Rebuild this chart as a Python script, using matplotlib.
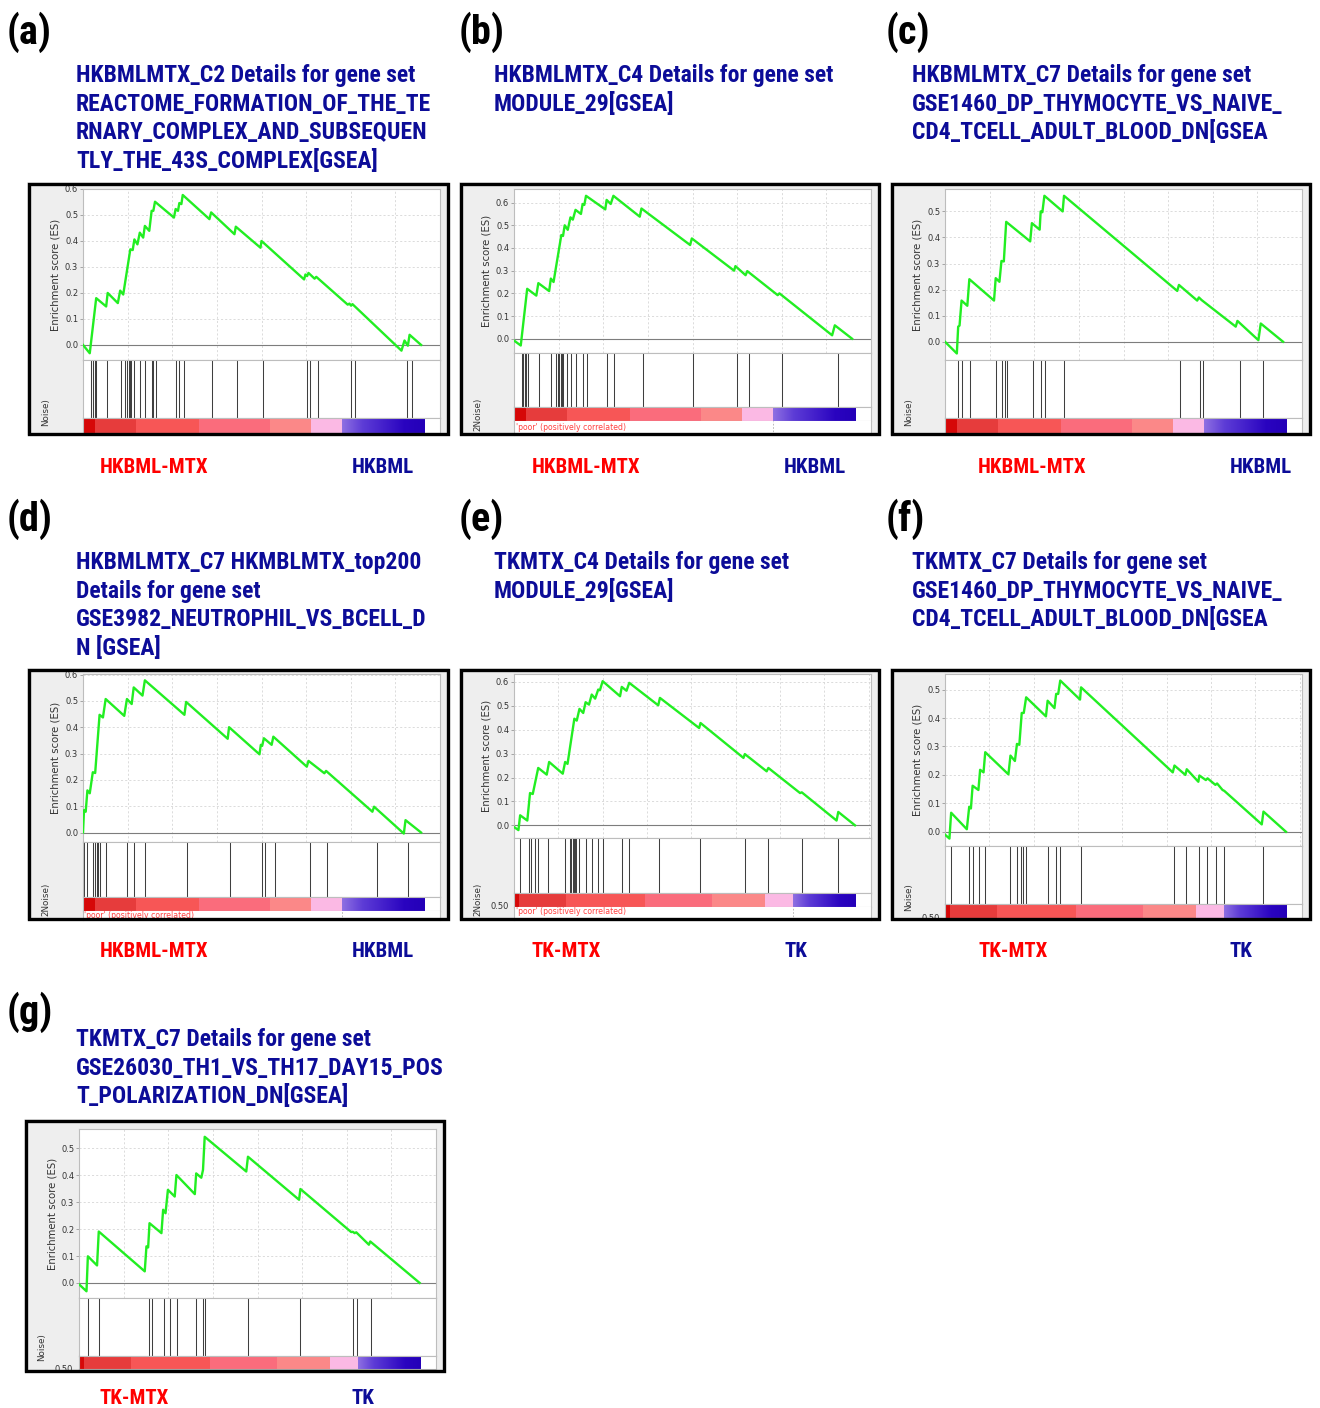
import numpy as np
import matplotlib
matplotlib.use("Agg")
import matplotlib.pyplot as plt
from matplotlib import font_manager as fm
from matplotlib.patches import Rectangle
from matplotlib.colors import LinearSegmentedColormap

# ---------------------------------------------------------------- data
# x values: position in the ranked gene list, in % of the list length
A_ES_X = [0, 2.0, 3.9, 6.85, 7.3, 10.3, 11.0, 11.9, 14.0, 14.7, 15.2, 16.1, 16.8, 17.8, 18.3, 19.6, 20.3,
          20.8, 21.3, 26.9, 27.4, 28.1, 28.5, 29.1, 29.5, 37.4, 37.9, 44.8, 45.2, 52.5, 52.8, 65.4, 65.8,
          66.3, 66.7, 68.5, 69.0, 78.3, 78.8, 79.3, 79.7, 94.2, 95.1, 96.1, 96.6, 100]
A_ES_Y = [0, -0.032, 0.18, 0.148, 0.2, 0.161, 0.209, 0.194, 0.368, 0.365, 0.406, 0.387, 0.432, 0.413, 0.458,
          0.439, 0.516, 0.516, 0.551, 0.49, 0.523, 0.516, 0.546, 0.542, 0.577, 0.484, 0.51, 0.426, 0.455,
          0.374, 0.4, 0.252, 0.271, 0.265, 0.277, 0.255, 0.262, 0.155, 0.159, 0.151, 0.157, -0.022, 0.017,
          -0.003, 0.039, 0]
A_HITS = [2.4, 2.9, 3.4, 3.9, 7.1, 11.0, 12.4, 13.0, 13.4, 13.7, 14.0, 15.0, 16.6, 18.1, 20.1, 20.5, 21.3,
          27.4, 28.2, 29.5, 37.9, 45.2, 52.8, 65.6, 66.5, 69.0, 78.6, 79.7, 95.1, 96.6]

B_ES_X = [0, 2.0, 3.9, 6.6, 7.2, 10.4, 10.9, 11.7, 14.0, 14.5, 15.0, 15.9, 16.7, 17.4, 18.2, 19.8, 20.3,
          20.8, 21.3, 27.0, 27.4, 28.6, 29.4, 37.2, 37.7, 52.1, 52.6, 65.1, 65.5, 68.5, 69.0, 78.0, 78.5,
          94.1, 94.9, 100]
B_ES_Y = [-0.008, -0.03, 0.22, 0.19, 0.245, 0.21, 0.265, 0.25, 0.457, 0.453, 0.5, 0.48, 0.535, 0.525, 0.568,
          0.55, 0.594, 0.59, 0.63, 0.57, 0.612, 0.594, 0.63, 0.538, 0.574, 0.413, 0.442, 0.3, 0.32, 0.28,
          0.298, 0.192, 0.2, 0.015, 0.059, 0]
B_HITS = [2.2, 2.7, 3.1, 3.5, 4.0, 7.2, 10.9, 12.3, 12.8, 13.3, 13.7, 14.1, 14.5, 15.4, 16.7, 18.2, 20.3,
          21.3, 27.4, 29.4, 37.7, 52.6, 65.5, 69.0, 78.5, 94.9]

C_ES_X = [0, 3.5, 3.9, 4.3, 4.9, 6.6, 7.2, 14.5, 15.0, 16.1, 16.7, 17.4, 18.1, 25.2, 25.7, 28.0, 28.3, 28.8,
          29.4, 34.8, 35.2, 68.7, 69.2, 74.6, 75.1, 75.9, 86.0, 86.5, 92.7, 93.4, 100]
C_ES_Y = [0, -0.045, 0.058, 0.062, 0.158, 0.138, 0.24, 0.158, 0.244, 0.23, 0.31, 0.308, 0.46, 0.385, 0.455,
          0.43, 0.5, 0.497, 0.56, 0.5, 0.56, 0.195, 0.218, 0.158, 0.17, 0.16, 0.058, 0.08, 0.006, 0.07, 0]
C_HITS = [3.9, 4.9, 7.2, 15.0, 16.7, 17.6, 18.1, 25.9, 28.2, 29.4, 35.0, 69.0, 74.8, 75.8, 86.5, 93.4]

D_ES_X = [0, 0.3, 0.8, 1.3, 2.0, 2.9, 3.6, 4.9, 5.9, 6.7, 12.2, 13.0, 14.4, 15.0, 17.6, 18.3, 30.0, 30.5,
          42.8, 43.2, 52.2, 52.6, 53.0, 53.5, 55.8, 56.3, 66.2, 66.7, 71.4, 71.9, 85.6, 86.1, 94.9, 95.4, 100]
D_ES_Y = [0, 0.085, 0.079, 0.16, 0.149, 0.229, 0.226, 0.447, 0.437, 0.507, 0.443, 0.507, 0.488, 0.551, 0.52,
          0.578, 0.447, 0.496, 0.356, 0.4, 0.297, 0.333, 0.329, 0.358, 0.333, 0.364, 0.25, 0.272, 0.225,
          0.234, 0.079, 0.098, -0.004, 0.047, 0]
D_HITS = [0.3, 1.3, 2.9, 3.6, 4.1, 4.4, 5.1, 6.7, 13.0, 15.0, 18.3, 30.5, 43.2, 52.6, 53.5, 56.3, 66.7,
          71.7, 86.1, 95.4]

E_ES_X = [0, 1.3, 1.8, 3.9, 4.7, 5.5, 7.1, 9.6, 10.3, 14.3, 15.0, 15.7, 17.7, 18.4, 19.2, 20.3, 21.0, 22.0,
          22.8, 23.8, 24.7, 25.2, 26.0, 31.1, 31.6, 33.0, 33.8, 42.3, 42.8, 54.3, 54.7, 67.3, 67.7, 74.1,
          74.6, 83.9, 84.4, 94.6, 95.1, 100]
E_ES_Y = [-0.007, -0.02, 0.042, 0.02, 0.135, 0.131, 0.24, 0.212, 0.265, 0.216, 0.265, 0.257, 0.446, 0.438,
          0.487, 0.47, 0.515, 0.505, 0.547, 0.53, 0.568, 0.565, 0.603, 0.54, 0.579, 0.563, 0.596, 0.502,
          0.533, 0.407, 0.428, 0.282, 0.298, 0.226, 0.24, 0.135, 0.138, 0.02, 0.056, 0]
E_HITS = [1.8, 4.5, 4.9, 6.3, 7.1, 10.1, 15.0, 16.4, 16.8, 17.2, 17.6, 17.9, 18.2, 19.2, 21.0, 22.8,
          24.7, 26.0, 31.8, 33.8, 42.6, 54.5, 67.7, 74.4, 84.4, 94.9]

F_ES_X = [0, 1.3, 1.8, 6.4, 7.1, 7.6, 8.1, 9.8, 10.3, 11.3, 11.8, 18.6, 19.2, 20.5, 21.1, 21.8, 22.5, 23.1,
          23.8, 29.6, 30.1, 32.1, 32.6, 33.2, 33.8, 39.6, 39.9, 66.8, 67.3, 70.5, 70.9, 74.3, 74.6, 76.5,
          77.0, 79.3, 79.8, 81.4, 81.9, 92.9, 93.4, 100]
F_ES_Y = [-0.01, -0.024, 0.067, 0.009, 0.088, 0.082, 0.162, 0.147, 0.218, 0.209, 0.28, 0.202, 0.268, 0.249,
          0.309, 0.306, 0.418, 0.418, 0.473, 0.406, 0.461, 0.435, 0.485, 0.485, 0.532, 0.465, 0.508, 0.209,
          0.233, 0.2, 0.22, 0.176, 0.198, 0.182, 0.188, 0.165, 0.17, 0.147, 0.144, 0.026, 0.071, 0]
F_HITS = [1.8, 7.1, 8.3, 10.1, 11.8, 19.2, 21.1, 22.3, 22.8, 23.8, 30.1, 32.6, 33.8, 39.9, 67.3, 70.7, 74.4,
          76.7, 79.5, 81.7, 93.4]

G_ES_X = [0, 2.2, 2.6, 5.3, 5.8, 19.3, 19.8, 20.3, 20.7, 24.2, 24.7, 25.4, 26.1, 28.1, 28.6, 34.0, 34.4,
          35.9, 36.4, 36.9, 49.1, 49.6, 64.6, 65.0, 79.9, 80.4, 80.9, 81.4, 85.1, 85.5, 100]
G_ES_Y = [-0.005, -0.031, 0.099, 0.065, 0.191, 0.043, 0.136, 0.132, 0.222, 0.185, 0.272, 0.259, 0.346,
          0.321, 0.401, 0.33, 0.407, 0.391, 0.42, 0.543, 0.414, 0.469, 0.309, 0.349, 0.189, 0.19, 0.185,
          0.188, 0.142, 0.154, 0]
G_HITS = [2.6, 5.8, 20.5, 21.3, 25.0, 26.6, 28.6, 34.4, 36.4, 36.9, 49.6, 64.8, 80.4, 81.4, 85.5]

# ranked-list metric colour bands (boundaries in % of list)
HK_BAR_BOUNDS = [0, 3.5, 15.6, 34.0, 54.7, 66.9, 75.9, 100]
TK_BAR_BOUNDS = [0, 1.5, 15.3, 38.4, 58.1, 73.6, 81.7, 100]

TITLE_A = ["HKBMLMTX_C2 Details for gene set", "REACTOME_FORMATION_OF_THE_TE",
           "RNARY_COMPLEX_AND_SUBSEQUEN", "TLY_THE_43S_COMPLEX[GSEA]"]
TITLE_B = ["HKBMLMTX_C4 Details for gene set", "MODULE_29[GSEA]"]
TITLE_C = ["HKBMLMTX_C7 Details for gene set", "GSE1460_DP_THYMOCYTE_VS_NAIVE_",
           "CD4_TCELL_ADULT_BLOOD_DN[GSEA"]
TITLE_D = ["HKBMLMTX_C7 HKMBLMTX_top200", "Details for gene set", "GSE3982_NEUTROPHIL_VS_BCELL_D",
           "N [GSEA]"]
TITLE_E = ["TKMTX_C4 Details for gene set", "MODULE_29[GSEA]"]
TITLE_F = ["TKMTX_C7 Details for gene set", "GSE1460_DP_THYMOCYTE_VS_NAIVE_",
           "CD4_TCELL_ADULT_BLOOD_DN[GSEA"]
TITLE_G = ["TKMTX_C7 Details for gene set", "GSE26030_TH1_VS_TH17_DAY15_POS",
           "T_POLARIZATION_DN[GSEA]"]

HK_PHENO = ["HKBML-MTX", "HKBML"]
TK_PHENO = ["TK-MTX", "TK"]

# ---------------------------------------------------------------- style / layout
W, H = 1320, 1408
fig = plt.figure(figsize=(W / 100, H / 100), dpi=100)
fig.patch.set_facecolor("white")

installed = {f.name for f in fm.fontManager.ttflist}
NARROW = next((n for n in ["Liberation Sans Narrow", "Arial Narrow", "Roboto Condensed"] if n in installed),
              "Liberation Sans")
NAVY = "#0c0c98"
RED = "#ff0000"
GREEN = "#22ee22"
SPINE = "#bdbdbd"
BAR_COLORS = ["#d60808", "#e63c3c", "#f75656", "#fa6c7c", "#fb8888", "#fbb9e4"]
BLUE_CMAP = LinearSegmentedColormap.from_list("blues", ["#8f70e2", "#5d3cd6", "#4420cc", "#2a04c0", "#2400b8"])
XMAX = 104.7

LAYOUT = {
    "a": dict(box=(27, 182, 449, 435), l=83, r=440, es_t=189, es_b=360, hit_b=418, bar_b=433,
              ylim=(-0.058, 0.6), noise=(45.7, 398, "Noise)"), grid=13.2),
    "b": dict(box=(459, 182, 880, 435), l=514, r=871, es_t=189, es_b=353, hit_b=407, bar_b=421,
              ylim=(-0.063, 0.66), noise=(477.7, 398, "2Noise)"), grid=13.2, poor=(516, 427)),
    "c": dict(box=(890, 182, 1311, 435), l=945, r=1302, es_t=189, es_b=360, hit_b=418, bar_b=433,
              ylim=(-0.07, 0.586), noise=(908.7, 398, "Noise)"), grid=13.2),
    "d": dict(box=(27, 668, 449, 920), l=83, r=440, es_t=674, es_b=842, hit_b=897, bar_b=911,
              ylim=(-0.036, 0.602), noise=(45.7, 883, "2Noise)"), grid=13.2, poor=(84, 916)),
    "e": dict(box=(459, 668, 880, 920), l=514, r=871, es_t=674, es_b=838, hit_b=893, bar_b=907,
              ylim=(-0.053, 0.633), noise=(477.7, 883, "2Noise)"), grid=13.0, poor=(516, 912),
              half=(509, 907)),
    "f": dict(box=(890, 668, 1311, 920), l=945, r=1302, es_t=674, es_b=846, hit_b=904, bar_b=918,
              ylim=(-0.05, 0.555), noise=(908.7, 883, "Noise)"), grid=13.0, half=(940, 919)),
    "g": dict(box=(24, 1119, 445, 1372), l=79, r=436, es_t=1129, es_b=1298, hit_b=1356, bar_b=1369,
              ylim=(-0.056, 0.572), noise=(41.7, 1333, "Noise)"), grid=13.1, half=(73, 1370)),
}

PANELS = {
    "a": dict(letter="(a)", title=TITLE_A, pheno=HK_PHENO, es_x=A_ES_X, es_y=A_ES_Y, hits=A_HITS,
              bounds=HK_BAR_BOUNDS, ytop=0.6),
    "b": dict(letter="(b)", title=TITLE_B, pheno=HK_PHENO, es_x=B_ES_X, es_y=B_ES_Y, hits=B_HITS,
              bounds=HK_BAR_BOUNDS, ytop=0.6),
    "c": dict(letter="(c)", title=TITLE_C, pheno=HK_PHENO, es_x=C_ES_X, es_y=C_ES_Y, hits=C_HITS,
              bounds=HK_BAR_BOUNDS, ytop=0.5),
    "d": dict(letter="(d)", title=TITLE_D, pheno=HK_PHENO, es_x=D_ES_X, es_y=D_ES_Y, hits=D_HITS,
              bounds=HK_BAR_BOUNDS, ytop=0.6),
    "e": dict(letter="(e)", title=TITLE_E, pheno=TK_PHENO, es_x=E_ES_X, es_y=E_ES_Y, hits=E_HITS,
              bounds=TK_BAR_BOUNDS, ytop=0.6),
    "f": dict(letter="(f)", title=TITLE_F, pheno=TK_PHENO, es_x=F_ES_X, es_y=F_ES_Y, hits=F_HITS,
              bounds=TK_BAR_BOUNDS, ytop=0.5),
    "g": dict(letter="(g)", title=TITLE_G, pheno=TK_PHENO, es_x=G_ES_X, es_y=G_ES_Y, hits=G_HITS,
              bounds=TK_BAR_BOUNDS, ytop=0.5),
}

# text anchor positions (pixels): letter (x, baseline), title (x, first baseline), phenotype (x1, x2, baseline)
TEXT_POS = {
    "a": dict(letter=(7, 44), title=(76, 82), pheno=(100, 352, 473)),
    "b": dict(letter=(459, 44), title=(494, 82), pheno=(532, 784, 473)),
    "c": dict(letter=(886, 44), title=(912, 82), pheno=(978, 1230, 473)),
    "d": dict(letter=(7, 531), title=(76, 569), pheno=(100, 352, 957)),
    "e": dict(letter=(459, 531), title=(494, 569), pheno=(532, 784, 957)),
    "f": dict(letter=(886, 531), title=(912, 569), pheno=(978, 1230, 957)),
    "g": dict(letter=(7, 1024), title=(76, 1046), pheno=(100, 352, 1404)),
}
LINE_STEP = 28.6


def px_rect(x0, y0, x1, y1):
    return [x0 / W, 1 - y1 / H, (x1 - x0) / W, (y1 - y0) / H]


def ftext(x, y, s, **kw):
    fig.text(x / W, 1 - y / H, s, **kw)


def plain(ax):
    ax.set_facecolor("white")
    ax.set_xticks([])
    ax.set_yticks([])
    for s in ax.spines.values():
        s.set_color(SPINE)
        s.set_linewidth(0.8)


def clipped_text(ax, *args, **kw):
    t = ax.text(*args, **kw)
    t.set_clip_on(True)
    t.set_clip_box(ax.bbox)
    return t


for key, P in PANELS.items():
    L = LAYOUT[key]
    T = TEXT_POS[key]
    bx0, by0, bx1, by1 = L["box"]

    # gray panel background (pixel coordinates inside)
    box = fig.add_axes(px_rect(bx0, by0, bx1, by1))
    box.set_facecolor("#eeeeee")
    box.set_xlim(bx0, bx1)
    box.set_ylim(by1, by0)
    box.set_xticks([])
    box.set_yticks([])
    for s in box.spines.values():
        s.set_visible(False)

    l, r = L["l"], L["r"]
    grid_x = np.arange(1, 9) * L["grid"]

    # enrichment-score plot
    es = fig.add_axes(px_rect(l, L["es_t"], r, L["es_b"]))
    plain(es)
    es.plot(P["es_x"], P["es_y"], color=GREEN, lw=1.7, zorder=3)
    es.axhline(0, color="#7d7d7d", lw=0.8, zorder=2)
    es.set_xlim(0, XMAX)
    es.set_ylim(*L["ylim"])
    yt = np.round(np.arange(0, P["ytop"] + 1e-9, 0.1), 1)
    es.set_yticks(yt)
    es.set_yticklabels([f"{v:.1f}" for v in yt])
    es.set_xticks(grid_x)
    es.tick_params(axis="x", length=0, labelbottom=False)
    es.tick_params(axis="y", length=2, width=0.6, color="#999999", labelsize=6, labelcolor="#333333", pad=1.5)
    es.grid(True, ls=(0, (2.5, 2.5)), color="#d6d6d6", lw=0.6)
    es.set_axisbelow(True)
    box.text(l - 27, (L["es_t"] + L["es_b"]) / 2, "Enrichment score (ES)", rotation=90, ha="center",
             va="center", fontsize=7.3, color="#333333")

    # hit lines
    ht = fig.add_axes(px_rect(l, L["es_b"], r, L["hit_b"]))
    plain(ht)
    ht.vlines(P["hits"], 0, 1, colors="#3f3f3f", lw=0.75)
    ht.set_xlim(0, XMAX)
    ht.set_ylim(0, 1)

    # ranked list colour bar
    b = np.array(P["bounds"])
    br = fig.add_axes(px_rect(l, L["hit_b"], r, L["bar_b"]))
    plain(br)
    br.bar(b[:-2], 1, width=np.diff(b)[:-1], align="edge", color=BAR_COLORS, lw=0)
    br.imshow(np.linspace(0, 1, 256)[None, :], extent=(b[-2], b[-1], 0, 1), aspect="auto",
              cmap=BLUE_CMAP, interpolation="bilinear")
    br.set_xlim(0, XMAX)
    br.set_ylim(0, 1)

    if "poor" in L:
        bl = fig.add_axes(px_rect(l, L["bar_b"], r, by1))
        plain(bl)
        bl.spines["bottom"].set_visible(False)
        bl.spines["top"].set_visible(False)
        bl.set_xlim(0, XMAX)
        bl.set_ylim(0, 1)
        bl.axvline(b[-2], color="#b0b0b0", lw=0.6, ls=(0, (2, 2)))
        clipped_text(bl, L["poor"][0], L["poor"][1], "'poor' (positively correlated)",
                     transform=box.transData, ha="left", va="center", fontsize=5.6, color="#ff4040")

    if "half" in L:
        clipped_text(box, L["half"][0], L["half"][1], "0.50", ha="right", va="center", fontsize=6,
                     color="#333333")

    nx, ny, ns = L["noise"]
    clipped_text(box, nx, ny, ns, rotation=90, ha="center", va="top", fontsize=6.3, color="#333333")

    # black frame
    fig.add_artist(Rectangle(((bx0 + 1.5) / W, 1 - (by1 - 1.5) / H), (bx1 - bx0 - 3) / W, (by1 - by0 - 3) / H,
                             transform=fig.transFigure, fill=False, ec="black", lw=2.4, zorder=20))

    # texts outside the frame
    ftext(T["letter"][0], T["letter"][1], P["letter"], ha="left", va="baseline", fontsize=29,
          fontweight="bold", family=[NARROW, "DejaVu Sans"], color="black")
    for i, line in enumerate(P["title"]):
        ftext(T["title"][0], T["title"][1] + i * LINE_STEP, line, ha="left", va="baseline", fontsize=17,
              fontweight="bold", family=[NARROW, "DejaVu Sans"], color=NAVY)
    ftext(T["pheno"][0], T["pheno"][2], P["pheno"][0], ha="left", va="baseline", fontsize=15,
          fontweight="bold", family=[NARROW, "DejaVu Sans"], color=RED)
    ftext(T["pheno"][1], T["pheno"][2], P["pheno"][1], ha="left", va="baseline", fontsize=15,
          fontweight="bold", family=[NARROW, "DejaVu Sans"], color=NAVY)

fig.savefig("out.png", dpi=100)
